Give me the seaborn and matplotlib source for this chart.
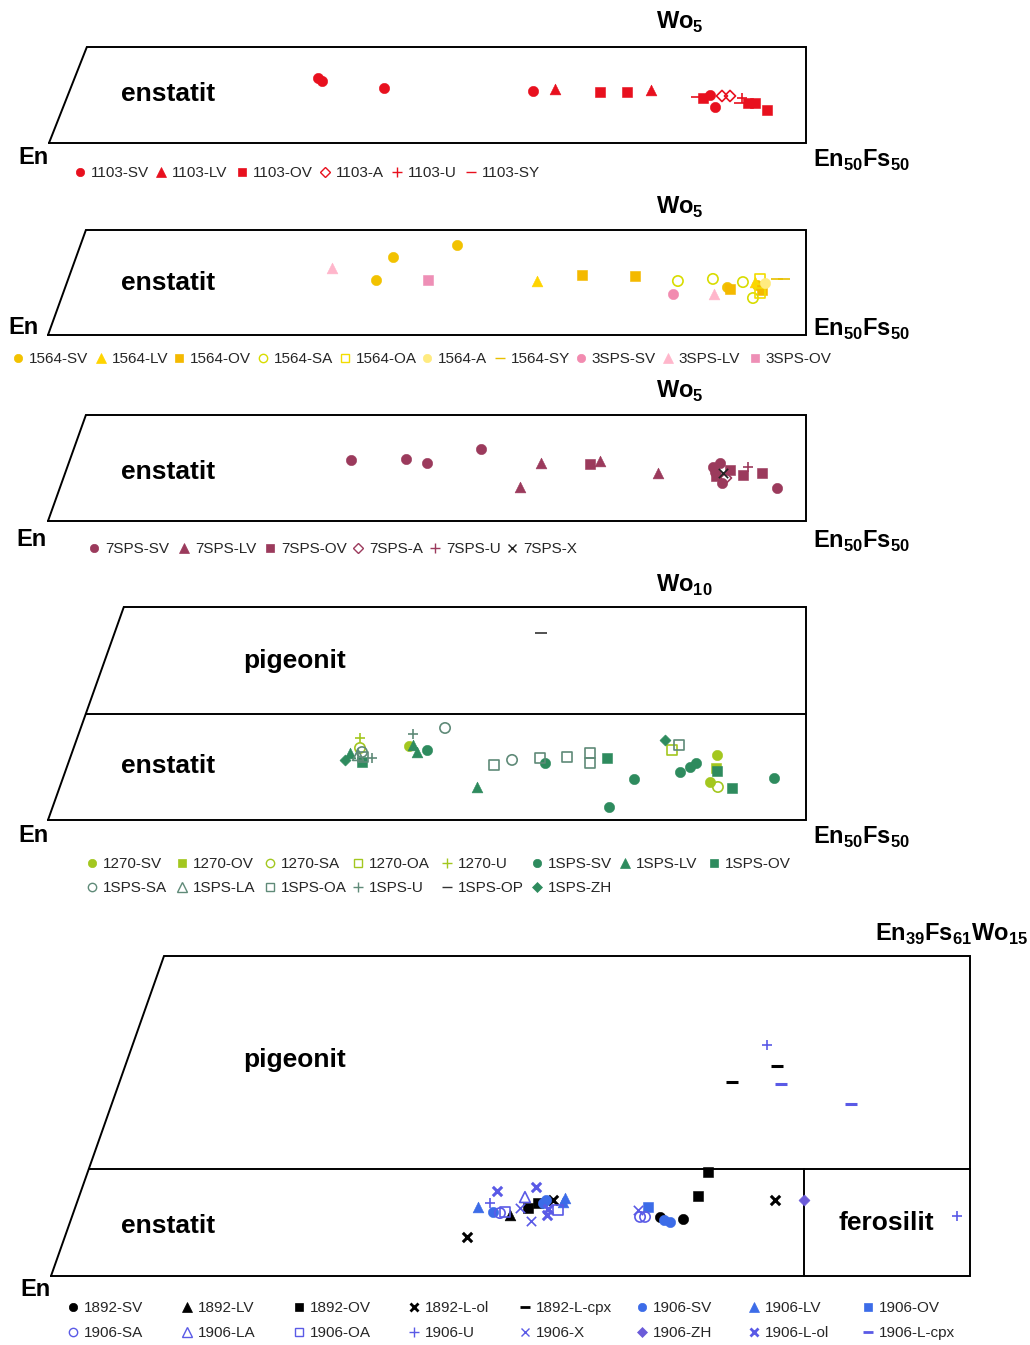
import matplotlib
matplotlib.use("Agg")
import matplotlib.pyplot as plt
from matplotlib.lines import Line2D
import pandas as pd
import seaborn as sns

sns.set_theme(style="white")
plt.rcParams["font.family"] = ["Liberation Sans", "DejaVu Sans"]
plt.rcParams["mathtext.fontset"] = "custom"
plt.rcParams["mathtext.rm"] = "Liberation Sans"
plt.rcParams["mathtext.bf"] = "Liberation Sans:bold"

# ---------------------------------------------------------------- data
# Fs = position along the En - Fs join, Wo = wollastonite content

# sample 1103
P1_SERIES = ["1103-SV", "1103-LV", "1103-OV", "1103-A", "1103-U", "1103-SY"]
P1_FS = [[17.77, 18.03, 22.13, 31.97, 43.66, 43.99],
         [33.42, 39.76],
         [36.39, 38.18, 43.20, 46.17, 46.63, 47.42],
         [44.45, 44.98],
         [45.77],
         [42.80, 45.64]]
P1_WO = [[3.39, 3.23, 2.86, 2.71, 2.50, 1.87],
         [2.81, 2.76],
         [2.66, 2.66, 2.34, 2.08, 2.08, 1.72],
         [2.45, 2.45],
         [2.34],
         [2.40, 2.08]]

# samples 1564 and 3SPS
P2_SERIES = ["1564-SV", "1564-LV", "1564-OV", "1564-SA", "1564-OA", "1564-A",
             "1564-SY", "3SPS-SV", "3SPS-LV", "3SPS-OV"]
P2_FS = [[21.64, 22.76, 26.98, 44.79, 46.77],
         [32.25, 46.63],
         [35.22, 38.72, 44.98, 47.10],
         [41.55, 43.86, 45.84, 46.50],
         [46.96, 46.96],
         [47.29],
         [48.09, 48.55],
         [41.23],
         [18.73, 43.93],
         [25.06]]
P2_WO = [[2.62, 3.71, 4.29, 2.29, 2.38],
         [2.57, 2.52],
         [2.86, 2.81, 2.19, 2.14],
         [2.57, 2.67, 2.52, 1.76],
         [2.67, 2.00],
         [2.48],
         [2.67, 2.67],
         [1.95],
         [3.19, 1.95],
         [2.62]]

# sample 7SPS
P3_SERIES = ["7SPS-SV", "7SPS-LV", "7SPS-OV", "7SPS-A", "7SPS-U", "7SPS-X"]
P3_FS = [[19.99, 23.61, 25.00, 28.56, 43.86, 44.33, 44.00, 48.08, 44.46],
         [32.52, 31.13, 36.41, 40.24],
         [35.75, 44.98, 45.84, 47.10, 44.06],
         [44.72],
         [46.17],
         [44.52]]
P3_WO = [[2.88, 2.92, 2.74, 3.40, 2.55, 2.74, 2.31, 1.56, 1.79],
         [2.74, 1.60, 2.83, 2.26],
         [2.69, 2.41, 2.17, 2.26, 2.12],
         [2.03],
         [2.55],
         [2.26]]

# samples 1270 and 1SPS
P4_SERIES = ["1270-SV", "1270-OV", "1270-SA", "1270-OA", "1270-U",
             "1SPS-SV", "1SPS-LV", "1SPS-OV",
             "1SPS-SA", "1SPS-LA", "1SPS-OA", "1SPS-U", "1SPS-OP", "1SPS-ZH"]
P4_FS = [[23.81, 44.13, 43.67],
         [44.06],
         [44.19, 20.58],
         [41.16],
         [20.58],
         [25.00, 32.78, 38.65, 37.00, 41.69, 42.35, 42.74, 47.89],
         [19.92, 24.34, 28.30, 24.08],
         [20.71, 36.87, 44.13, 45.12],
         [26.19, 30.61, 20.71],
         [20.45],
         [20.78, 29.42, 32.45, 34.23, 35.75, 35.75, 41.62],
         [21.37, 24.08],
         [32.52],
         [19.59, 40.70]]
P4_WO = [[3.47, 3.05, 1.78],
         [2.44],
         [1.55, 3.38],
         [3.29],
         [3.85],
         [3.29, 2.68, 1.92, 0.61, 2.25, 2.49, 2.68, 1.97],
         [3.15, 3.19, 1.55, 3.52],
         [2.72, 2.91, 2.30, 1.50],
         [4.32, 2.82, 3.19],
         [3.05],
         [2.96, 2.58, 2.91, 2.96, 3.15, 2.68, 3.52],
         [2.91, 4.04],
         [8.78],
         [2.82, 3.76]]

# samples 1892 and 1906
P5_SERIES = ["1892-SV", "1892-LV", "1892-OV", "1892-L-ol", "1892-L-cpx",
             "1906-SV", "1906-LV", "1906-OV",
             "1906-SA", "1906-LA", "1906-OA", "1906-U", "1906-X", "1906-ZH",
             "1906-L-ol", "1906-L-cpx"]
P5_FS = [[40.43, 41.95],
         [30.47],
         [31.66, 32.33, 43.61, 42.95],
         [27.61, 33.32, 48.06],
         [48.19, 45.20],
         [29.34, 32.86, 40.69, 41.09, 32.66],
         [28.34, 34.12, 33.99],
         [39.63],
         [29.80, 39.10, 39.43],
         [31.46],
         [30.14, 33.65],
         [29.14, 47.53, 60.14],
         [31.13, 31.86, 38.96],
         [49.98],
         [29.61, 32.19, 32.92, 32.99],
         [48.46, 53.10]]
P5_WO = [[2.77, 2.67],
         [2.86],
         [3.19, 3.42, 4.88, 3.75],
         [1.83, 3.56, 3.56],
         [9.84, 9.09],
         [3.00, 3.56, 2.63, 2.53, 3.42],
         [3.23, 3.66, 3.47],
         [3.23],
         [2.95, 2.77, 2.77],
         [3.70],
         [3.00, 3.09],
         [3.42, 10.83, 2.81],
         [3.19, 2.58, 3.09],
         [3.56],
         [3.98, 4.17, 2.86, 3.14],
         [9.00, 8.06]]

# ---------------------------------------------------------------- styles
RED = "#e8101e"
MAROON = "#9b3a5c"
LIME = "#a3c71f"
TEAL = "#2e8b5e"
TEALGREY = "#5f8a78"
BLUE = "#3c6ce8"
VIOLET = "#5a5ae6"

# marker, colour, kind (filled / open / line)
STYLE = {
    "1103-SV": ("o", RED, "filled"), "1103-LV": ("^", RED, "filled"),
    "1103-OV": ("s", RED, "filled"), "1103-A": ("D", RED, "open"),
    "1103-U": ("+", RED, "line"), "1103-SY": ("_", RED, "line"),
    "1564-SV": ("o", "#f2c200", "filled"), "1564-LV": ("^", "#ffd400", "filled"),
    "1564-OV": ("s", "#f4b900", "filled"), "1564-SA": ("o", "#d8dc00", "open"),
    "1564-OA": ("s", "#f2dc00", "open"), "1564-A": ("o", "#ffeb80", "filled"),
    "1564-SY": ("_", "#e8c000", "line"), "3SPS-SV": ("o", "#f28bb0", "filled"),
    "3SPS-LV": ("^", "#ffb6cb", "filled"), "3SPS-OV": ("s", "#ee8fb6", "filled"),
    "7SPS-SV": ("o", MAROON, "filled"), "7SPS-LV": ("^", MAROON, "filled"),
    "7SPS-OV": ("s", MAROON, "filled"), "7SPS-A": ("D", MAROON, "open"),
    "7SPS-U": ("+", MAROON, "line"), "7SPS-X": ("x", "#222222", "line"),
    "1270-SV": ("o", LIME, "filled"), "1270-OV": ("s", LIME, "filled"),
    "1270-SA": ("o", LIME, "open"), "1270-OA": ("s", LIME, "open"),
    "1270-U": ("+", LIME, "line"), "1SPS-SV": ("o", TEAL, "filled"),
    "1SPS-LV": ("^", TEAL, "filled"), "1SPS-OV": ("s", TEAL, "filled"),
    "1SPS-SA": ("o", TEALGREY, "open"), "1SPS-LA": ("^", TEALGREY, "open"),
    "1SPS-OA": ("s", TEALGREY, "open"), "1SPS-U": ("+", TEALGREY, "line"),
    "1SPS-OP": ("_", "#333333", "line"), "1SPS-ZH": ("D", TEAL, "filled"),
    "1892-SV": ("o", "black", "filled"), "1892-LV": ("^", "black", "filled"),
    "1892-OV": ("s", "black", "filled"), "1892-L-ol": ("x", "black", "bold"),
    "1892-L-cpx": ("_", "black", "bold"), "1906-SV": ("o", BLUE, "filled"),
    "1906-LV": ("^", BLUE, "filled"), "1906-OV": ("s", BLUE, "filled"),
    "1906-SA": ("o", VIOLET, "open"), "1906-LA": ("^", VIOLET, "open"),
    "1906-OA": ("s", VIOLET, "open"), "1906-U": ("+", VIOLET, "line"),
    "1906-X": ("x", VIOLET, "line"), "1906-ZH": ("D", "#6b5bd9", "filled"),
    "1906-L-ol": ("x", VIOLET, "bold"), "1906-L-cpx": ("_", VIOLET, "bold"),
}

SIZE = {"o": 55, "^": 60, "s": 45, "D": 32, "+": 60, "x": 45, "_": 70}

W, H = 1030, 1345
fig = plt.figure(figsize=(W / 100, H / 100), dpi=100)
SHEAR = 0.5  # left edge of the field leans right by 0.5 Fs per Wo unit


def fx(px):
    return px / W


def fy(py):
    return 1 - py / H


def scatter_kws(name):
    m, c, kind = STYLE[name]
    kw = dict(marker=m, s=SIZE[m], color=c)
    if kind == "filled":
        kw.update(edgecolor=c, linewidth=0.4)
    elif kind == "open":
        kw.update(facecolor="none", edgecolor=c, linewidth=1.2)
    elif kind == "bold":
        kw.update(linewidth=2.2)
    else:
        kw.update(linewidth=1.2)
    return kw


def handle(name):
    m, c, kind = STYLE[name]
    ms = {"o": 6, "^": 6.5, "s": 5.5, "D": 5, "+": 7, "x": 6, "_": 7}[m]
    lw = {"filled": 0.5, "open": 1.0, "bold": 2.0, "line": 1.0}[kind]
    return Line2D([], [], ls="none", marker=m, markersize=ms, color=c,
                  markerfacecolor="none" if kind == "open" else c,
                  markeredgecolor=c, markeredgewidth=lw)


def draw_panel(box, xmax, womax, series, fs, wo, lines=()):
    left, right, bottom, top = box
    ax = fig.add_axes([fx(left), fy(bottom), (right - left) / W, (bottom - top) / H])
    ax.set_xlim(0, xmax)
    ax.set_ylim(0, womax)
    ax.axis("off")
    ax.plot([0, xmax, xmax, SHEAR * womax, 0], [0, 0, womax, womax, 0],
            color="black", lw=1.4, solid_joinstyle="miter", clip_on=False)
    for (xa, xb), (ya, yb) in lines:
        ax.plot([xa, xb], [ya, yb], color="black", lw=1.4, clip_on=False)
    for name, xs, ys in zip(series, fs, wo):
        df = pd.DataFrame({"Fs": xs, "Wo": ys})
        sns.scatterplot(data=df, x="Fs", y="Wo", ax=ax, legend=False,
                        clip_on=False, zorder=3, **scatter_kws(name))
    ax.set_xlabel("")
    ax.set_ylabel("")
    return ax


def legend_rows(series, xs, ys):
    i = 0
    for y in ys:
        for x in xs:
            if i >= len(series):
                return
            name = series[i]
            fig.legend([handle(name)], [name], loc="center left",
                       bbox_to_anchor=(fx(x - 6), fy(y)), frameon=False,
                       fontsize=11, handlelength=0.8, handletextpad=0.3,
                       borderpad=0, borderaxespad=0)
            i += 1


def label(px, py, s, size=17, ha="center"):
    fig.text(fx(px), fy(py), s, fontsize=size, fontweight="bold",
             ha=ha, va="center", color="black")


def sub(a, b):
    return r"$\mathbf{%s}_{\mathbf{%s}}$" % (a, b)


def en_fs():
    return r"$\mathbf{En}_{\mathbf{50}}\mathbf{Fs}_{\mathbf{50}}$"


# panel 1
draw_panel((49, 806, 143, 47), 50, 5, P1_SERIES, P1_FS, P1_WO)
label(680, 22, sub("Wo", "5"))
label(33, 158, "En")
label(862, 160, en_fs())
label(168, 94, "enstatit", size=19)
legend_rows(P1_SERIES, [80, 161, 242, 325, 397, 471], [173])

# panel 2
draw_panel((48, 806, 335, 230), 50, 5, P2_SERIES, P2_FS, P2_WO)
label(680, 207, sub("Wo", "5"))
label(24, 328, "En")
label(862, 329, en_fs())
label(168, 283, "enstatit", size=19)
legend_rows(P2_SERIES, [18, 101, 179, 263, 345, 427, 500, 581, 668, 755], [359])

# panel 3
draw_panel((48, 806, 521, 415), 50, 5, P3_SERIES, P3_FS, P3_WO)
label(680, 391, sub("Wo", "5"))
label(32, 540, "En")
label(862, 541, en_fs())
label(168, 472, "enstatit", size=19)
legend_rows(P3_SERIES, [94, 184, 270, 358, 435, 512], [549])

# panel 4
draw_panel((48, 806, 820, 607), 50, 10, P4_SERIES, P4_FS, P4_WO,
           lines=[((SHEAR * 5, 50), (5, 5))])
label(684, 585, sub("Wo", "10"))
label(34, 835, "En")
label(862, 837, en_fs())
label(295, 661, "pigeonit", size=19)
label(168, 766, "enstatit", size=19)
legend_rows(P4_SERIES, [92, 182, 270, 358, 447, 537, 625, 714], [864, 888])

# panel 5
draw_panel((51, 970, 1276, 956), 61, 15, P5_SERIES, P5_FS, P5_WO,
           lines=[((SHEAR * 5, 61), (5, 5)), ((50, 50), (0, 5))])
label(952, 934, r"$\mathbf{En}_{\mathbf{39}}\mathbf{Fs}_{\mathbf{61}}\mathbf{Wo}_{\mathbf{15}}$")
label(36, 1290, "En")
label(295, 1060, "pigeonit", size=19)
label(168, 1226, "enstatit", size=19)
label(886, 1223, "ferosilit", size=19)
legend_rows(P5_SERIES, [73, 187, 299, 414, 525, 642, 754, 868], [1308, 1333])

fig.savefig("out.png", dpi=100, facecolor="white")
